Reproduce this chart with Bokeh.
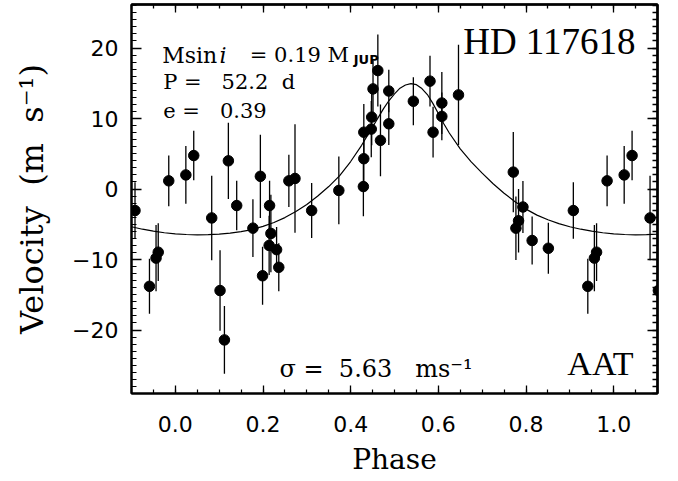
from bokeh.plotting import figure
from bokeh.models import Label, LinearAxis, FixedTicker, Range1d
from bokeh.embed import file_html
from bokeh.resources import INLINE
import numpy as np

# ---- data (phase folded, one period) ----
phase = [0.024, 0.042, 0.083, 0.102, 0.112, 0.121, 0.140, 0.177, 0.194, 0.199,
         0.214, 0.215, 0.218, 0.231, 0.236, 0.259, 0.273, 0.311, 0.373, 0.429,
         0.430, 0.430, 0.447, 0.448, 0.451, 0.462, 0.468, 0.487, 0.487, 0.543,
         0.581, 0.588, 0.608, 0.608, 0.646, 0.771, 0.777, 0.783, 0.793, 0.814,
         0.851, 0.908, 0.941, 0.956, 0.961, 0.985]
velocity = [2.0, 4.75, -4.1, -14.4, -21.4, 4.0, -2.34, -5.55, 1.8, -12.3,
            -8.0, -2.34, -6.3, -8.6, -11.1, 1.16, 1.5, -3.05, -0.2, 0.35,
            4.3, 8.06, 8.5, 10.2, 14.2, 16.8, 6.9, 13.9, 9.25, 12.45,
            15.3, 8.06, 12.2, 10.3, 13.35, 2.4, -5.55, -4.5, -2.55, -7.3,
            -8.4, -3.05, -13.8, -9.8, -8.96, 1.16]
error = [4.1, 3.5, 6.0, 5.7, 4.8, 5.4, 3.5, 4.1, 5.9, 4.1,
         4.2, 3.5, 5.5, 3.2, 3.4, 3.7, 7.7, 3.9, 4.8, 4.2,
         3.7, 4.0, 4.0, 4.0, 4.0, 5.1, 5.1, 3.0, 3.0, 3.4,
         3.6, 3.6, 4.4, 3.4, 7.1, 5.7, 4.5, 4.5, 3.7, 3.4,
         3.6, 4.0, 3.9, 4.7, 4.1, 3.6]

# Keplerian fit curve
curve_phase = [0.000, 0.025, 0.050, 0.075, 0.100, 0.125, 0.150, 0.175, 0.200, 0.225,
               0.250, 0.275, 0.300, 0.325, 0.350, 0.375, 0.400, 0.425, 0.450, 0.475,
               0.4875, 0.500, 0.5125, 0.525, 0.5375, 0.550, 0.5625, 0.575, 0.5875, 0.600,
               0.6125, 0.625, 0.650, 0.675, 0.700, 0.725, 0.750, 0.775, 0.800, 0.825,
               0.850, 0.875, 0.900, 0.925, 0.950, 0.975]
curve_velocity = [-6.35, -6.45, -6.50, -6.48, -6.40, -6.25, -6.05, -5.75, -5.30, -4.75,
                  -4.05, -3.20, -2.20, -1.00, 0.35, 1.90, 3.90, 6.20, 8.80, 11.40,
                  12.55, 13.50, 14.30, 14.75, 14.95, 14.80, 14.25, 13.40, 12.15, 10.70,
                  9.25, 7.95, 5.70, 3.85, 2.25, 0.75, -0.60, -1.80, -2.85, -3.70,
                  -4.35, -4.90, -5.35, -5.70, -5.98, -6.20]

x_major_ticks = [0.0, 0.2, 0.4, 0.6, 0.8, 1.0]
x_tick_labels = ["0.0", "0.2", "0.4", "0.6", "0.8", "1.0"]
y_major_ticks = [-20, -10, 0, 10, 20]
y_tick_labels = ["\u221220", "\u221210", "0", "10", "20"]
x_minor_ticks = [round(-0.1 + 0.05 * k, 3) for k in range(25)]
y_minor_ticks = list(range(-29, 27))

# ---- fold data over the plotted phase window ----
ph = np.array(phase)
vel = np.array(velocity)
err = np.array(error)
ph_all = np.concatenate([ph - 1, ph, ph + 1])
v_all = np.concatenate([vel, vel, vel])
e_all = np.concatenate([err, err, err])

cp = np.array(curve_phase)
cv = np.array(curve_velocity)
cp_all = np.concatenate([cp - 1, cp, cp + 1])
cv_all = np.concatenate([cv, cv, cv])

W, H = 678, 481
p = figure(width=W, height=H, output_backend="svg", toolbar_location=None,
           x_range=Range1d(-0.1, 1.1), y_range=Range1d(-29.0, 26.17),
           min_border_left=131, min_border_right=21, min_border_top=4,
           min_border_bottom=88, background_fill_color="white",
           border_fill_color="white")
p.xgrid.visible = False
p.ygrid.visible = False
p.outline_line_color = "black"
p.outline_line_width = 2

SERIF = "DejaVu Serif"
SANS = "DejaVu Sans"

def style_axis(ax, major_in, minor_in, ticks, minors, labels):
    ax.ticker = FixedTicker(ticks=ticks, minor_ticks=minors)
    ax.axis_line_color = "black"
    ax.axis_line_width = 2
    ax.major_tick_in = major_in
    ax.major_tick_out = 0
    ax.minor_tick_in = minor_in
    ax.minor_tick_out = 0
    ax.major_tick_line_width = 1.3
    ax.minor_tick_line_width = 1.2
    ax.major_tick_line_color = "black"
    ax.minor_tick_line_color = "black"
    ax.major_label_overrides = {t: l for t, l in zip(ticks, labels)}
    ax.major_label_text_font = SANS
    ax.major_label_text_font_size = "22px"
    ax.major_label_text_color = "black"

def tick_only_axis(minors, length, place):
    # axis with no labelled ticks: only (minor) tick marks on the frame
    ax = LinearAxis(ticker=FixedTicker(ticks=[], minor_ticks=minors))
    ax.axis_line_color = "black"
    ax.axis_line_width = 2
    ax.major_tick_in = 0
    ax.major_tick_out = 0
    ax.minor_tick_in = length
    ax.minor_tick_out = 0
    ax.minor_tick_line_width = 1.3
    ax.minor_tick_line_color = "black"
    ax.major_label_standoff = 0
    p.add_layout(ax, place)

xa = p.xaxis[0]
style_axis(xa, 8, 4, x_major_ticks, x_minor_ticks, x_tick_labels)
xa.major_label_standoff = 22
xa.axis_label = "Phase"
xa.axis_label_text_font = SERIF
xa.axis_label_text_font_size = "28px"
xa.axis_label_text_font_style = "normal"
xa.axis_label_text_color = "black"
xa.axis_label_standoff = 8

ya = p.yaxis[0]
style_axis(ya, 10, 5, y_major_ticks, y_minor_ticks, y_tick_labels)
ya.major_label_standoff = 13
ya.axis_label = "Velocity \u00a0(m \u00a0s\u207b\u00b9)"
ya.axis_label_text_font = SERIF
ya.axis_label_text_font_size = "32px"
ya.axis_label_text_font_style = "normal"
ya.axis_label_text_color = "black"
ya.axis_label_standoff = 18

tick_only_axis(x_major_ticks, 8, "above")
tick_only_axis(x_minor_ticks, 4, "above")
tick_only_axis(y_major_ticks, 10, "right")
tick_only_axis(y_minor_ticks, 5, "right")

# model curve
p.line(cp_all, cv_all, line_color="black", line_width=1.2)
# error bars and points
p.segment(x0=ph_all, y0=v_all - e_all, x1=ph_all, y1=v_all + e_all,
          line_color="black", line_width=1.3)
p.scatter(ph_all, v_all, size=10.5, fill_color="black", line_color="black")

def lab(x, y, text, size, font=SERIF, style="normal", align="left"):
    p.add_layout(Label(x=x, y=y, text=text, text_font=font,
                       text_font_size=size, text_font_style=style,
                       text_align=align, text_baseline="alphabetic",
                       text_color="black"))

NB = "\u00a0"
lab(1.0498, 20.96, "HD 117618", "37px", font="Liberation Serif", align="right")
lab(1.0452, -24.71, "AAT", "34px", font="Liberation Serif", align="right")
lab(-0.0300, 18.94, "Msin", "22px")
lab(0.1010, 18.94, "i", "22px", style="italic")
lab(0.1700, 18.94, "= 0.19 M", "21px")
lab(0.4070, 18.33, "JUP", "13px", font=SANS, style="bold")
lab(-0.0277, 15.15, "P =" + NB + NB + " 52.2" + NB + " d", "21px")
lab(-0.0277, 11.13, "e =" + NB + NB + " 0.39", "21px")
lab(0.2376, -25.53, "\u03c3 =" + NB + " 5.63" + NB + NB + " ms\u207b\u00b9", "24px")

open("out.html", "w").write(file_html(p, INLINE))
